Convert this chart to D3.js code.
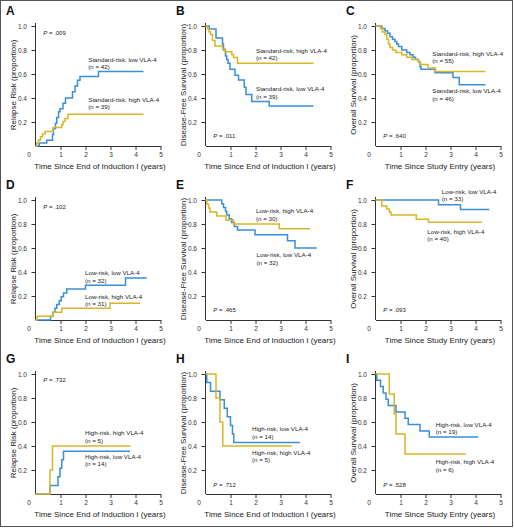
<!DOCTYPE html>
<html>
<head>
<meta charset="utf-8">
<script src="https://cdn.jsdelivr.net/npm/d3@7"></script>
<style>
  html, body { margin: 0; padding: 0; background: #fff; }
  svg { display: block; font-family: "Liberation Sans", Arial, Helvetica, sans-serif; }
</style>
</head>
<body>
<script>
// ---------------- DATA ----------------
// Each series: [time (years), proportion] step points (Kaplan-Meier style)
const aLow  = [[0,0],[0.15,0.024],[0.45,0.048],[0.68,0.095],[0.72,0.143],[0.8,0.19],[0.85,0.238],[0.92,0.286],[0.98,0.31],[1.1,0.357],[1.2,0.40],[1.48,0.452],[1.58,0.50],[1.68,0.548],[1.78,0.58],[2.52,0.62],[4.32,0.62]];
const aHigh = [[0,0],[0.05,0.026],[0.12,0.051],[0.2,0.077],[0.28,0.10],[0.38,0.12],[0.7,0.154],[1.05,0.18],[1.1,0.205],[1.18,0.23],[1.3,0.264],[4.32,0.264]];

const bHigh = [[0,1],[0.08,0.976],[0.14,0.952],[0.2,0.929],[0.28,0.88],[0.38,0.833],[0.68,0.81],[0.78,0.786],[1.05,0.762],[1.12,0.738],[1.28,0.69],[4.32,0.69]];
const bLow  = [[0,1],[0.15,0.974],[0.42,0.90],[0.68,0.85],[0.72,0.80],[0.8,0.75],[0.85,0.72],[0.9,0.69],[0.98,0.64],[1.18,0.59],[1.32,0.55],[1.55,0.49],[1.62,0.43],[1.85,0.37],[2.55,0.333],[4.32,0.333]];

const cHigh = [[0,1],[0.2,0.98],[0.28,0.95],[0.38,0.93],[0.45,0.89],[0.52,0.85],[0.58,0.82],[0.68,0.80],[0.82,0.78],[1.05,0.76],[1.25,0.74],[1.45,0.72],[1.72,0.70],[1.8,0.68],[2.1,0.65],[2.4,0.62],[4.4,0.62]];
const cLow  = [[0,1],[0.25,0.98],[0.38,0.96],[0.48,0.94],[0.58,0.91],[0.68,0.89],[0.78,0.87],[0.85,0.85],[0.92,0.83],[1.05,0.80],[1.25,0.78],[1.38,0.76],[1.5,0.74],[1.6,0.72],[1.72,0.70],[1.78,0.66],[1.82,0.64],[2.38,0.61],[3.1,0.57],[3.35,0.51],[4.4,0.51]];

const dLow  = [[0,0],[0.6,0.032],[0.7,0.065],[0.78,0.097],[0.85,0.129],[0.95,0.161],[1.03,0.194],[1.12,0.226],[1.25,0.258],[2.0,0.29],[3.6,0.35],[4.45,0.35]];
const dHigh = [[0,0],[0.07,0.032],[0.7,0.065],[1.05,0.097],[2.98,0.14],[4.18,0.14]];

const eLow  = [[0,1],[0.65,0.969],[0.72,0.938],[0.8,0.906],[0.85,0.875],[0.95,0.844],[1.05,0.813],[1.15,0.78],[1.28,0.75],[1.98,0.71],[3.28,0.66],[3.58,0.60],[4.45,0.60]];
const eHigh = [[0,1],[0.05,0.967],[0.12,0.933],[0.18,0.90],[0.45,0.867],[0.82,0.833],[1.12,0.80],[2.95,0.76],[4.18,0.76]];

const fLow  = [[0,1],[2.52,0.96],[3.4,0.92],[4.55,0.92]];
const fHigh = [[0,1],[0.25,0.95],[0.45,0.925],[0.55,0.90],[0.62,0.875],[1.63,0.84],[2.12,0.815],[4.25,0.815]];

const gLow  = [[0,0],[0.58,0.071],[0.9,0.143],[0.98,0.214],[1.05,0.286],[1.12,0.357],[3.78,0.357]];
const gHigh = [[0,0],[0.58,0.2],[0.68,0.4],[3.8,0.4]];

const hLow  = [[0,1],[0.05,0.929],[0.2,0.857],[0.58,0.786],[0.75,0.714],[0.87,0.643],[1.0,0.571],[1.08,0.5],[1.13,0.429],[3.78,0.429]];
const hHigh = [[0,1],[0.42,0.8],[0.58,0.6],[0.69,0.4],[3.45,0.4]];

const iLow  = [[0,1],[0.05,0.947],[0.2,0.895],[0.31,0.842],[0.42,0.789],[0.51,0.737],[0.82,0.684],[1.18,0.632],[1.31,0.579],[1.78,0.526],[2.15,0.474],[4.11,0.474]];
const iHigh = [[0,1],[0.55,0.833],[0.75,0.667],[0.82,0.5],[1.18,0.333],[3.62,0.333]];

const xTickLabels = [1, 2, 3, 4, 5];
const yTickLabels = [0.2, 0.4, 0.6, 0.8, 1.0];

const panelLetters = ["A","B","C","D","E","F","G","H","I"];
const pValues = [".009", ".011", ".640", ".102", ".465", ".093", ".732", ".712", ".528"];
const yTitles = ["Relapse Risk (proportion)", "Disease-Free Survival (proportion)", "Overall Survival (proportion)"];
const xTitles = ["Time Since End of Induction I (years)", "Time Since End of Induction I (years)", "Time Since Study Entry (years)"];

// label text per panel: [line1, line2]
const labelTexts = [
  [["Standard-risk, low VLA-4","(n = 42)"],["Standard-risk, high VLA-4","(n = 39)"]],
  [["Standard-risk, high VLA-4","(n = 42)"],["Standard-risk, low VLA-4","(n = 39)"]],
  [["Standard-risk, high VLA-4","(n = 55)"],["Standard-risk, low VLA-4","(n = 46)"]],
  [["Low-risk, low VLA-4","(n = 32)"],["Low-risk, high VLA-4","(n = 31)"]],
  [["Low-risk, high VLA-4","(n = 30)"],["Low-risk, low VLA-4","(n = 32)"]],
  [["Low-risk, low VLA-4","(n = 33)"],["Low-risk, high VLA-4","(n = 40)"]],
  [["High-risk, high VLA-4","(n = 5)"],["High-risk, low VLA-4","(n = 14)"]],
  [["High-risk, low VLA-4","(n = 14)"],["High-risk, high VLA-4","(n = 5)"]],
  [["High-risk, low VLA-4","(n = 19)"],["High-risk, high VLA-4","(n = 6)"]]
];

const lowSeries  = [aLow, bLow, cLow, dLow, eLow, fLow, gLow, hLow, iLow];
const highSeries = [aHigh, bHigh, cHigh, dHigh, eHigh, fHigh, gHigh, hHigh, iHigh];

// ---------------- LAYOUT / STYLE ----------------
const W = 514, H = 528;
const colX = [0, 170, 340];
const rowY = [0, 174, 348];
const BLUE = "#3b8fd8";
const YELLOW = "#d8b62a";

// annotation anchor positions in data units [t, value] per panel
const labelAt = [
  [[2.11,0.704],[2.11,0.367]],
  [[2.02,0.778],[2.02,0.456]],
  [[2.27,0.75],[2.27,0.439]],
  [[1.98,0.372],[1.98,0.178]],
  [[2.02,0.889],[2.04,0.522]],
  [[2.65,1.05],[2.07,0.72]],
  [[1.98,0.489],[1.98,0.294]],
  [[1.86,0.522],[1.86,0.328]],
  [[2.41,0.558],[2.41,0.247]]
];
const pAt = [[0.31,0.925],[0.31,0.064],[0.31,0.064],[0.31,0.925],[0.31,0.064],[0.31,0.064],[0.31,0.93],[0.31,0.058],[0.31,0.058]];

const svg = d3.select("body").append("svg")
  .attr("width", W).attr("height", H);

svg.append("rect").attr("x", 0.5).attr("y", 0.5).attr("width", 512).attr("height", 526)
  .attr("fill", "#fff").attr("stroke", "#555").attr("stroke-width", 1);

const x = d3.scaleLinear().domain([0, 5]).range([35.5, 160.5]);
const y = d3.scaleLinear().domain([0, 1]).range([146, 26]);

const line = d3.line().x(d => x(d[0])).y(d => y(d[1])).curve(d3.curveStepAfter);

panelLetters.forEach((letter, i) => {
  const col = i % 3, row = Math.floor(i / 3);
  const g = svg.append("g").attr("transform", `translate(${colX[col]},${rowY[row]})`);

  // panel letter
  g.append("text").attr("x", 6).attr("y", 15)
    .attr("font-size", 12).attr("font-weight", "bold").attr("fill", "#111")
    .text(letter);

  // x axis
  const xAxis = d3.axisBottom(x).tickValues(xTickLabels).tickFormat(d3.format("d"))
    .tickSize(4).tickSizeOuter(0).tickPadding(2.4);
  const gx = g.append("g").attr("transform", `translate(0,${y(0)})`).call(xAxis);
  gx.select(".domain").attr("stroke", "#333");
  gx.selectAll(".tick line").attr("stroke", "#333");
  gx.selectAll(".tick text").attr("font-size", 6.5).attr("fill", "#333")
    .attr("font-family", "Liberation Sans, Arial, sans-serif");
  // origin label
  g.append("text").attr("x", x(0) - 6.5).attr("y", y(0) + 11)
    .attr("text-anchor", "middle").attr("font-size", 6.5).attr("fill", "#333").text("0");

  // y axis
  const yAxis = d3.axisLeft(y).tickValues(yTickLabels).tickFormat(d3.format(".1f"))
    .tickSize(4).tickSizeOuter(0).tickPadding(4.5);
  const gy = g.append("g").attr("transform", `translate(${x(0)},0)`).call(yAxis);
  gy.select(".domain").remove();
  gy.append("line").attr("x1", 0).attr("x2", 0).attr("y1", y(0)).attr("y2", y(1.025)).attr("stroke", "#333");
  gy.selectAll(".tick line").attr("stroke", "#333");
  gy.selectAll(".tick text").attr("font-size", 6.5).attr("fill", "#333")
    .attr("font-family", "Liberation Sans, Arial, sans-serif");

  // titles
  g.append("text").attr("x", 100).attr("y", 169).attr("text-anchor", "middle")
    .attr("font-size", 8).attr("fill", "#222").text(xTitles[col]);
  g.append("text").attr("transform", `translate(15.5,${(y(0) + y(1)) / 2 - 1}) rotate(-90)`)
    .attr("text-anchor", "middle").attr("font-size", 8).attr("fill", "#222").text(yTitles[col]);

  // curves
  g.append("path").datum(lowSeries[i]).attr("d", line)
    .attr("fill", "none").attr("stroke", BLUE).attr("stroke-width", 1.5);
  g.append("path").datum(highSeries[i]).attr("d", line)
    .attr("fill", "none").attr("stroke", YELLOW).attr("stroke-width", 1.5);

  // annotations
  labelTexts[i].forEach((lt, k) => {
    const [t, v] = labelAt[i][k];
    const tx = g.append("text").attr("font-size", 6.2).attr("fill", "#222");
    tx.append("tspan").attr("x", x(t)).attr("y", y(v)).text(lt[0]);
    tx.append("tspan").attr("x", x(t)).attr("y", y(v) + 7.3).text(lt[1]);
  });

  // P value
  const pt = g.append("text").attr("x", x(pAt[i][0])).attr("y", y(pAt[i][1]))
    .attr("font-size", 6).attr("fill", "#222");
  pt.append("tspan").attr("font-style", "italic").text("P");
  pt.append("tspan").text(" = " + pValues[i]);
});
</script>
</body>
</html>
